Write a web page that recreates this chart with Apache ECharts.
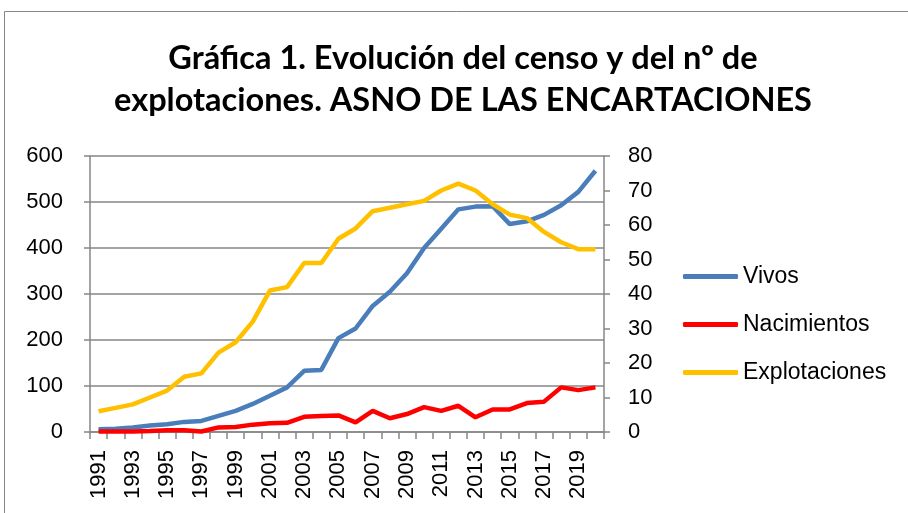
<!DOCTYPE html>
<html><head><meta charset="utf-8">
<script src="https://cdn.jsdelivr.net/npm/echarts@6/dist/echarts.min.js"></script>
<style>html,body{margin:0;padding:0;background:#fff}#c{width:908px;height:513px}</style>
</head><body><div id="c"></div>
<script>
const years = ['1991','1992','1993','1994','1995','1996','1997','1998','1999','2000','2001','2002','2003','2004','2005','2006','2007','2008','2009','2010','2011','2012','2013','2014','2015','2016','2017','2018','2019','2020'];
const vivos = [6,7,10,14,17,22,24,35,46,61,79,97,133,135,204,225,274,305,345,400,442,484,490,491,452,458,472,493,522,568];
const nacimientos = [1,1,1,2,4,4,1,10,11,16,19,20,33,35,36,21,46,30,39,54,46,57,32,49,49,63,66,97,91,97];
const explotaciones = [6,7,8,10,12,16,17,23,26,32,41,42,49,49,56,59,64,65,66,67,70,72,70,66,63,62,58,55,53,53];
const leftTicks = [0,100,200,300,400,500,600];
const rightTicks = [0,10,20,30,40,50,60,70,80];

const font = 'Liberation Sans';
const axisColor = '#868686';
const chart = echarts.init(document.getElementById('c'));
chart.setOption({
  animation: false,
  backgroundColor: '#fff',
  title: {
    text: 'Gráfica 1. Evolución del censo y del nº de\nexplotaciones. ASNO DE LAS ENCARTACIONES',
    left: 463, top: 38, padding: 0, textAlign: 'center',
    textStyle: { fontFamily: 'Lato', fontWeight: 'bold', fontSize: 32.5, lineHeight: 42, color: '#000' }
  },
  graphic: [{ type: 'rect', shape: { x: 4.5, y: 11.5, width: 910, height: 520 }, style: { fill: null, stroke: axisColor, lineWidth: 1 }, silent: true }],
  legend: {
    orient: 'vertical', left: 683, top: 265, padding: 0, itemGap: 25, itemWidth: 55, itemHeight: 5,
    textStyle: { fontFamily: font, fontSize: 23, color: '#000' },
    data: [
      { name: 'Vivos', icon: 'roundRect' },
      { name: 'Nacimientos', icon: 'roundRect' },
      { name: 'Explotaciones', icon: 'roundRect' }
    ]
  },
  grid: { left: 90, right: 304, top: 156, bottom: 81 },
  xAxis: {
    type: 'category', data: years, boundaryGap: true,
    axisLine: { lineStyle: { color: axisColor, width: 1.5 } },
    axisTick: { show: true, interval: 0, length: 7, lineStyle: { color: axisColor, width: 1.5 } },
    axisLabel: { interval: 1, rotate: 90, fontFamily: font, fontSize: 22, color: '#000', margin: 18 }
  },
  yAxis: [{
    type: 'value', min: leftTicks[0], max: leftTicks[leftTicks.length-1], interval: 100, position: 'left',
    axisLine: { show: true, lineStyle: { color: axisColor, width: 1.5 } },
    axisTick: { show: true, length: 6, lineStyle: { color: axisColor, width: 1.5 } },
    splitLine: { lineStyle: { color: axisColor, width: 1.5 } },
    axisLabel: { fontFamily: font, fontSize: 22, color: '#000', margin: 27 }
  }, {
    type: 'value', min: rightTicks[0], max: rightTicks[rightTicks.length-1], interval: 10, position: 'right',
    axisLine: { show: true, lineStyle: { color: axisColor, width: 1.5 } },
    axisTick: { show: true, length: 6, lineStyle: { color: axisColor, width: 1.5 } },
    splitLine: { show: false },
    axisLabel: { fontFamily: font, fontSize: 22, color: '#000', margin: 24 }
  }],
  series: [
    { name: 'Vivos', type: 'line', data: vivos, yAxisIndex: 0, symbol: 'none', lineStyle: { color: '#4A7EBB', width: 4.5 }, itemStyle: { color: '#4A7EBB' }, z: 3 },
    { name: 'Nacimientos', type: 'line', data: nacimientos, yAxisIndex: 0, symbol: 'none', lineStyle: { color: '#FF0000', width: 4.5 }, itemStyle: { color: '#FF0000' }, z: 3 },
    { name: 'Explotaciones', type: 'line', data: explotaciones, yAxisIndex: 1, symbol: 'none', lineStyle: { color: '#FFC000', width: 4.5 }, itemStyle: { color: '#FFC000' }, z: 3 }
  ]
});
</script></body></html>
